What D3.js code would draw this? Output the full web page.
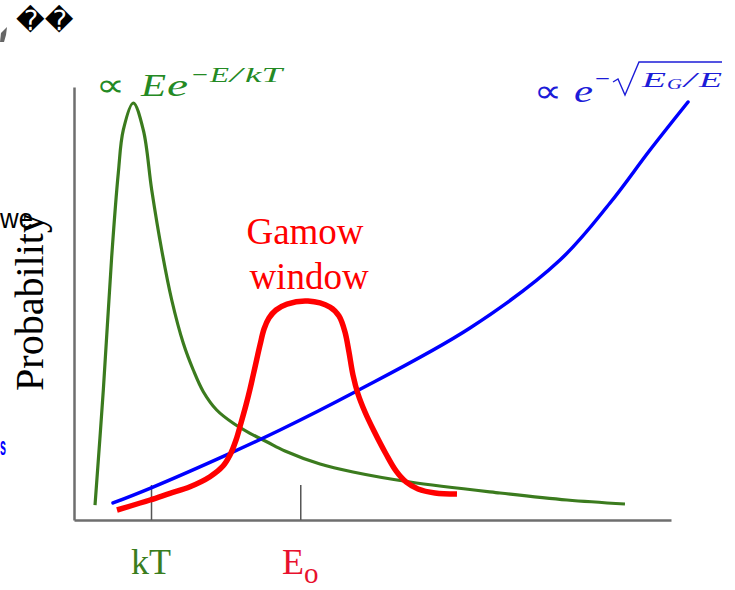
<!DOCTYPE html>
<html>
<head>
<meta charset="utf-8">
<script src="https://cdn.jsdelivr.net/npm/d3@7"></script>
<style>
  html, body { margin: 0; padding: 0; background: #fff; }
  svg { display: block; }
</style>
</head>
<body>
<svg id="chart" width="735" height="590"></svg>
<script>
// Maxwell-Boltzmann distribution  (∝ E e^{-E/kT})
const mbEnergy = [3.52, 4.91, 6.31, 7.42, 8.26, 9.93, 11.61, 13.02, 14.69, 16.37, 18.31, 19.98, 21.66, 23.90, 26.68, 29.48, 32.28, 35.34, 41.21, 46.73, 56.28, 71.36, 82.58, 92.29];
const mbProb   = [3.46, 30.02, 60.74, 80.14, 90.07, 96.30, 90.07, 76.21, 62.36, 50.81, 40.81, 34.64, 29.63, 25.40, 22.33, 20.02, 18.08, 15.94, 12.93, 11.09, 8.78, 6.24, 4.62, 3.70];

// Tunnelling probability  (∝ e^{-sqrt(E_G/E)})
const tunEnergy = [6.53, 12.73, 26.13, 34.51, 46.73, 66.33, 81.41, 89.78, 96.48, 102.85];
const tunProb   = [3.93, 7.32, 15.40, 20.79, 29.33, 44.34, 60.05, 73.21, 85.45, 96.54];

// Product of the two: the Gamow window
const gwEnergy = [7.20, 12.73, 16.08, 19.43, 22.78, 24.96, 26.13, 27.14, 27.97, 28.81, 29.48, 30.32, 31.16, 31.83, 32.66, 33.84, 35.68, 39.20, 42.88, 44.39, 45.39, 46.06, 46.73, 47.57, 48.74, 50.25, 52.26, 53.94, 55.61, 57.62, 60.47, 64.15];
const gwProb   = [2.31, 4.62, 6.17, 7.69, 10.00, 12.47, 15.01, 18.48, 22.40, 26.56, 30.25, 35.33, 40.42, 44.11, 46.65, 48.50, 49.88, 50.58, 49.19, 47.11, 43.42, 38.80, 33.49, 29.10, 24.94, 20.55, 15.24, 11.32, 8.78, 7.16, 6.24, 6.00];

// Marked energies on the horizontal axis
const tickEnergy = [12.9, 37.9];
const tickMain   = ["kT", "E"];
const tickSub    = ["", "o"];
const tickColor  = ["#3a7d1e", "#e8102e"];

const svg = d3.select("#chart");
const x = d3.scaleLinear().domain([0, 100]).range([74, 671]);
const y = d3.scaleLinear().domain([0, 100]).range([520, 87]);

// Axes
const xAxis = d3.axisBottom(x).tickValues(tickEnergy).tickSize(-35).tickSizeOuter(0).tickFormat("");
const gx = svg.append("g").attr("transform", `translate(0,${y(0)})`).call(xAxis);
gx.select(".domain").attr("stroke", "#6e6e6e").attr("stroke-width", 2.5);
gx.selectAll(".tick line").attr("stroke", "#555").attr("stroke-width", 1.5);

const yAxis = d3.axisLeft(y).tickValues([]).tickSizeOuter(0);
const gy = svg.append("g").attr("transform", `translate(${x(0)},0)`).call(yAxis);
gy.select(".domain").attr("stroke", "#6e6e6e").attr("stroke-width", 2.5);

// Curves
const line = d3.line().x(d => x(d[0])).y(d => y(d[1])).curve(d3.curveCatmullRom.alpha(0.5));
const zip = (a, b) => a.map((v, i) => [v, b[i]]);

svg.append("path").datum(zip(mbEnergy, mbProb))
  .attr("d", line).attr("fill", "none").attr("stroke", "#3b7b1e").attr("stroke-width", 3.2);
svg.append("path").datum(zip(tunEnergy, tunProb))
  .attr("d", line).attr("fill", "none").attr("stroke", "#0000ff").attr("stroke-width", 3.5).attr("stroke-linecap", "round");
svg.append("path").datum(zip(gwEnergy, gwProb))
  .attr("d", line).attr("fill", "none").attr("stroke", "#ff0000").attr("stroke-width", 5.5);

// Tick labels
const serif = "'Liberation Serif', 'Times New Roman', serif";
tickEnergy.forEach((e, i) => {
  const t = svg.append("text")
    .attr("x", x(e)).attr("y", 574)
    .attr("text-anchor", "middle")
    .attr("font-family", serif).attr("font-size", 36)
    .attr("fill", tickColor[i]);
  t.append("tspan").text(tickMain[i]);
  if (tickSub[i]) t.append("tspan").attr("dy", 9).attr("font-size", 29).text(tickSub[i]);
});

// Axis title
svg.append("text").attr("x", 0).attr("y", 228)
  .attr("font-family", "'Liberation Sans', Arial, sans-serif").attr("font-size", 28)
  .attr("textLength", 33).attr("lengthAdjust", "spacingAndGlyphs")
  .attr("fill", "#000").text("we");
svg.append("text")
  .attr("transform", "translate(43,302) rotate(-90)")
  .attr("text-anchor", "middle")
  .attr("font-family", serif).attr("font-size", 40)
  .attr("fill", "#000").text("Probability");

svg.append("text").attr("x", 0).attr("y", 455)
  .attr("font-family", "'Liberation Sans', Arial, sans-serif").attr("font-size", 26).attr("font-weight", "bold")
  .attr("textLength", 6).attr("lengthAdjust", "spacingAndGlyphs")
  .attr("fill", "#0000ff").text("s");

// Gamow window label
const gw = svg.append("text").attr("text-anchor", "middle")
  .attr("font-family", serif).attr("font-size", 37).attr("fill", "#ff0000");
gw.append("tspan").attr("x", 305).attr("y", 244).text("Gamow");
gw.append("tspan").attr("x", 309).attr("y", 289).text("window");

// Formula pieces, each placed at its own spot
function piece(px, py, str, size, italic, len, color) {
  const t = svg.append("text").attr("x", px).attr("y", py)
    .attr("font-family", serif).attr("font-size", size)
    .attr("fill", color).text(str);
  if (italic) t.attr("font-style", "italic");
  if (len) t.attr("textLength", len).attr("lengthAdjust", "spacingAndGlyphs");
  return t;
}

// ∝ E e^{-E/kT}
const green = "#248a24";
piece(96, 96, "∝", 32, false, 29, green);
piece(141, 96, "E", 31, true, 25, green);
piece(167, 96, "e", 31, true, 21, green);
piece(192, 82, "−", 22, false, 16, green);
piece(210, 82, "E", 22, true, 19, green);
piece(230, 82, "/", 22, true, 12, green);
piece(245, 82, "kT", 22, true, 37, green);

// ∝ e^{-sqrt(E_G/E)}
const blue = "#1c1cd8";
piece(534, 102, "∝", 32, false, 28, blue);
piece(574, 102, "e", 31, true, 19, blue);
piece(595, 86, "−", 22, false, 15, blue);
piece(642, 87, "E", 21, true, 24, blue);
piece(667, 89, "G", 15, true, 15, blue);
piece(684, 87, "/", 21, true, 12, blue);
piece(699, 87, "E", 21, true, 23, blue);
svg.append("path")
  .attr("d", "M613,82 L618,79 L625,95 L639,62 L722,62")
  .attr("fill", "none").attr("stroke", blue).attr("stroke-width", 1.4);

// Header glyphs
svg.append("text").attr("x", 16).attr("y", 30)
  .attr("font-family", "'DejaVu Sans', sans-serif").attr("font-size", 28)
  .attr("fill", "#000").text("\uFFFD\uFFFD");
svg.append("path").attr("d", "M0,42 L1,33 L7,27 L6,35 L4,42 Z").attr("fill", "#666");
</script>
</body>
</html>
